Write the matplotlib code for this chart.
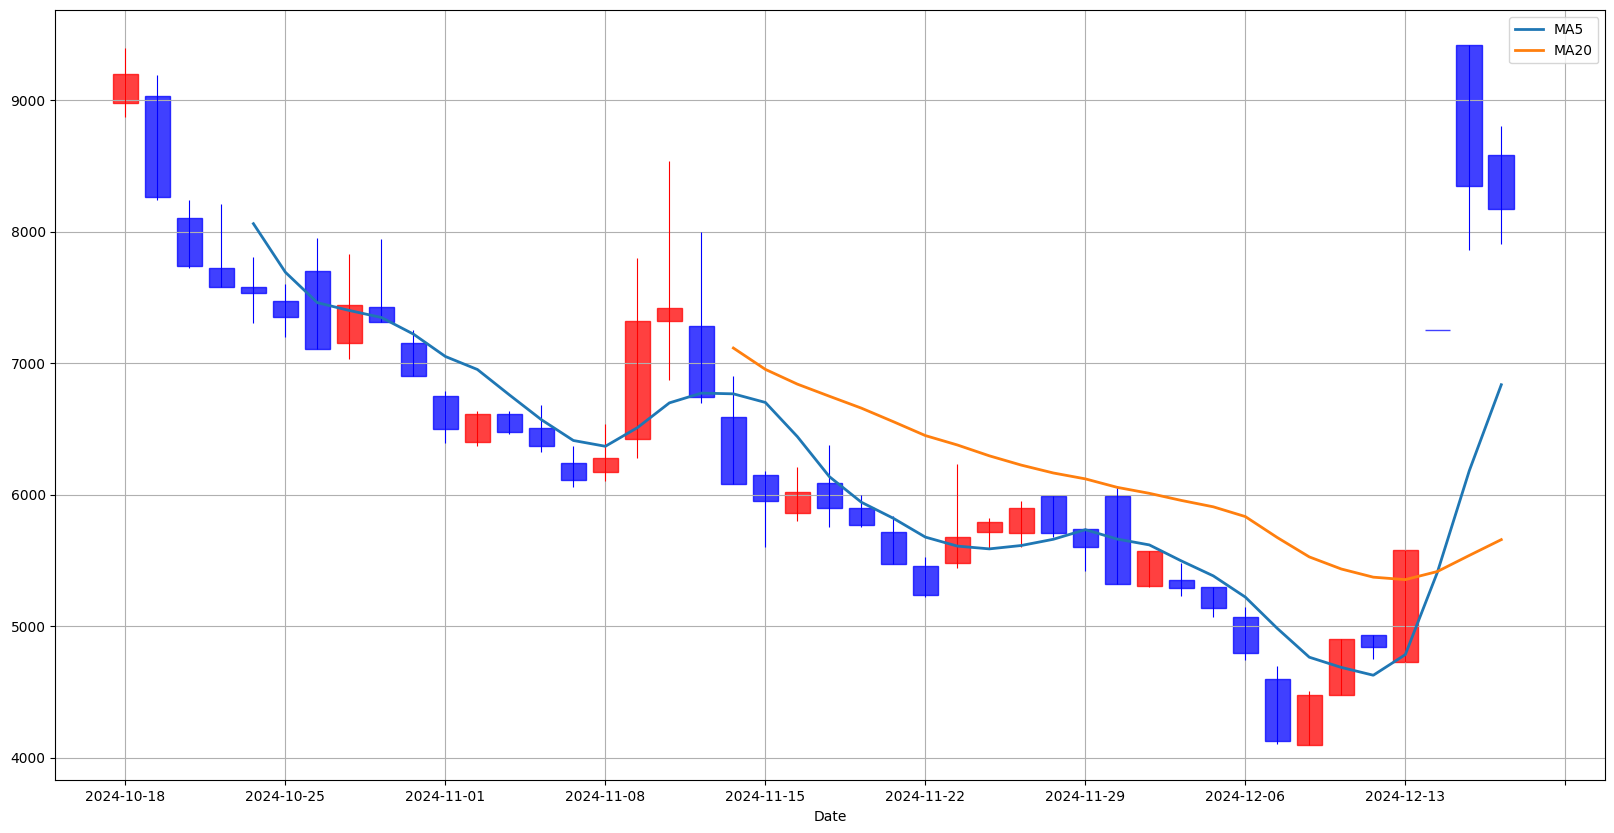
import numpy as np
import pandas as pd
from matplotlib import pyplot as plt

# daily OHLC, business days from 2024-10-18
dates = pd.bdate_range('2024-10-18', periods=44)
opens = [8977, 9030, 8103, 7722, 7578, 7471, 7700, 7152, 7426, 7152,
         6749, 6399, 6612, 6506, 6240, 6171, 6422, 7319, 7281, 6589,
         6148, 5859, 6088, 5897, 5715, 5456, 5479, 5715, 5707, 5989,
         5738, 5989, 5304, 5350, 5297, 5068, 4597, 4097, 4475, 4932,
         4726, 7250, 9420, 8582]
highs = [9395, 9192, 8242, 8211, 7808, 7603, 7953, 7831, 7945, 7253,
         6789, 6637, 6637, 6683, 6371, 6538, 7801, 8538, 7998, 6903,
         6181, 6211, 6379, 5999, 5839, 5527, 6234, 5822, 5953, 5989,
         5745, 6065, 5570, 5481, 5297, 5147, 4698, 4506, 4901, 4932,
         5578, 7250, 9420, 8805]
lows = [8875, 8244, 7727, 7578, 7309, 7202, 7106, 7035, 7312, 6901,
        6396, 6373, 6465, 6328, 6062, 6107, 6282, 6871, 6696, 6082,
        5605, 5803, 5757, 5757, 5471, 5225, 5446, 5586, 5601, 5679,
        5423, 5319, 5297, 5233, 5073, 4746, 4103, 4097, 4475, 4749,
        4726, 7250, 7859, 7910]
closes = [9198, 8262, 7738, 7578, 7532, 7350, 7106, 7441, 7312, 6901,
          6498, 6612, 6475, 6369, 6110, 6278, 7319, 7418, 6741, 6082,
          5951, 6019, 5897, 5768, 5471, 5236, 5677, 5791, 5897, 5707,
          5601, 5319, 5570, 5289, 5137, 4795, 4128, 4475, 4901, 4840,
          5578, 7250, 8346, 8171]

df = pd.DataFrame({'Open': opens, 'High': highs, 'Low': lows, 'Close': closes}, index=dates)
df['MA5'] = df['Close'].rolling(5).mean()
df['MA20'] = df['Close'].rolling(20).mean()

x = np.arange(len(df))
up = df['Close'] > df['Open']
colors = np.where(up, 'red', 'blue')

fig, ax = plt.subplots(figsize=(16.14, 8.33), dpi=100)
fig.subplots_adjust(left=0.0343, right=0.9946, bottom=0.0633, top=0.9876)

ax.vlines(x, df['Low'], df['High'], colors=colors, linewidth=0.8)
ax.bar(x, df['Close'] - df['Open'], bottom=df['Open'], width=0.8,
       color=colors, edgecolor=colors, alpha=0.75, linewidth=1)

ax.plot(x, df['MA5'], label='MA5', linewidth=2)
ax.plot(x, df['MA20'], label='MA20', linewidth=2)

ticks = np.arange(0, 46, 5)
labels = [dates[t].strftime('%Y-%m-%d') if t < len(dates) else '' for t in ticks]
ax.set_xticks(ticks)
ax.set_xticklabels(labels)
ax.set_xlim(-2.19, 46.25)
ax.set_ylim(3829, 9684)
ax.set_xlabel('Date')
ax.grid(True)
ax.legend(loc='upper right')

plt.savefig('out.png')
